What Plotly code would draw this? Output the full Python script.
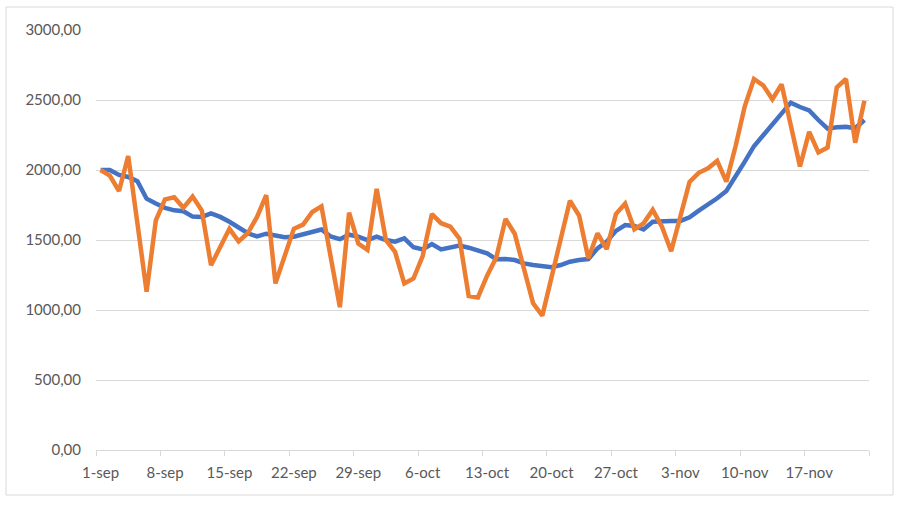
import pandas as pd
import plotly.graph_objects as go

dates = pd.date_range("2020-09-01", periods=84, freq="D")

series_blue = [
    2000, 2000, 1965, 1950, 1920, 1795, 1760, 1730, 1712, 1705,
    1667, 1665, 1690, 1665, 1630, 1588, 1548, 1526, 1545, 1532,
    1520, 1523, 1542, 1563, 1575, 1525, 1506, 1538, 1524, 1500,
    1524, 1500, 1488, 1512, 1448, 1433, 1471, 1433, 1448, 1460,
    1445, 1429, 1405, 1362, 1364, 1357, 1333, 1321, 1310, 1305,
    1321, 1345, 1357, 1364, 1440, 1488, 1565, 1607, 1600, 1576,
    1631, 1636, 1636, 1636, 1662, 1710, 1750, 1798, 1850, 1950,
    2060, 2170, 2250, 2320, 2405, 2481, 2450, 2425, 2357, 2295,
    2305, 2308, 2298, 2357,
]

series_orange = [
    2000, 1960, 1850, 2100, 1620, 1130, 1640, 1790, 1805, 1730,
    1810, 1710, 1320, 1450, 1580, 1490, 1550, 1665, 1820, 1190,
    1390, 1580, 1610, 1700, 1740, 1380, 1020, 1695, 1475, 1430,
    1865, 1500, 1415, 1190, 1225, 1385, 1685, 1620, 1595, 1510,
    1100, 1090, 1245, 1375, 1650, 1545, 1295, 1048, 960, 1230,
    1510, 1780, 1675, 1369, 1548, 1435, 1685, 1760, 1576, 1619,
    1715, 1595, 1420, 1660, 1915, 1980, 2012, 2065, 1917, 2170,
    2455, 2650, 2605, 2505, 2612, 2320, 2025, 2272, 2125, 2160,
    2590, 2650, 2195, 2495,
]

x_tick_dates = pd.date_range("2020-09-01", periods=12, freq="7D")
x_tick_labels = ["1-sep", "8-sep", "15-sep", "22-sep", "29-sep", "6-oct",
                 "13-oct", "20-oct", "27-oct", "3-nov", "10-nov", "17-nov"]
boundary_ticks = pd.date_range("2020-08-31 12:00", periods=13, freq="7D")

y_ticks = [0, 500, 1000, 1500, 2000, 2500, 3000]

fig = go.Figure()
fig.add_trace(go.Scatter(x=dates, y=series_blue, mode="lines",
                         line=dict(color="#4472C4", width=4.5),
                         showlegend=False))
fig.add_trace(go.Scatter(x=dates, y=series_orange, mode="lines",
                         line=dict(color="#ED7D31", width=4.5),
                         showlegend=False))

font_family = "Lato, 'Open Sans', sans-serif"

fig.update_layout(
    width=905, height=511,
    margin=dict(l=96, r=36, t=30, b=61),
    paper_bgcolor="white", plot_bgcolor="white",
    separators=",.",
    font=dict(family=font_family, size=15, color="#595959"),
    xaxis=dict(
        type="date",
        range=["2020-08-31 12:00", "2020-11-23 12:00"],
        tickmode="array",
        tickvals=list(x_tick_dates),
        ticktext=x_tick_labels,
        ticks="",
        showgrid=False,
        showline=True, linecolor="#d9d9d9", linewidth=1,
        zeroline=False,
        ticklabelstandoff=9,
        minor=dict(tickmode="array", tickvals=list(boundary_ticks),
                   ticks="outside", ticklen=5, tickcolor="#d9d9d9",
                   tickwidth=1, showgrid=False),
        fixedrange=True,
    ),
    yaxis=dict(
        range=[0, 3000],
        tickmode="array",
        tickvals=y_ticks,
        tickformat=".2f",
        showgrid=True, gridcolor="#d9d9d9", gridwidth=1,
        zeroline=False,
        showline=False,
        ticks="",
        ticklabelstandoff=14,
        fixedrange=True,
    ),
    shapes=[dict(type="rect", xref="paper", yref="paper",
                 x0=(6 - 96) / 773, x1=(893 - 96) / 773,
                 y0=(450 - 495) / 420, y1=(450 - 7) / 420,
                 line=dict(color="#d9d9d9", width=1), layer="below")],
)

fig.write_html("out.html",
               config={"displayModeBar": False},
               post_script="document.body.style.margin='0px';document.body.style.overflow='hidden';")
